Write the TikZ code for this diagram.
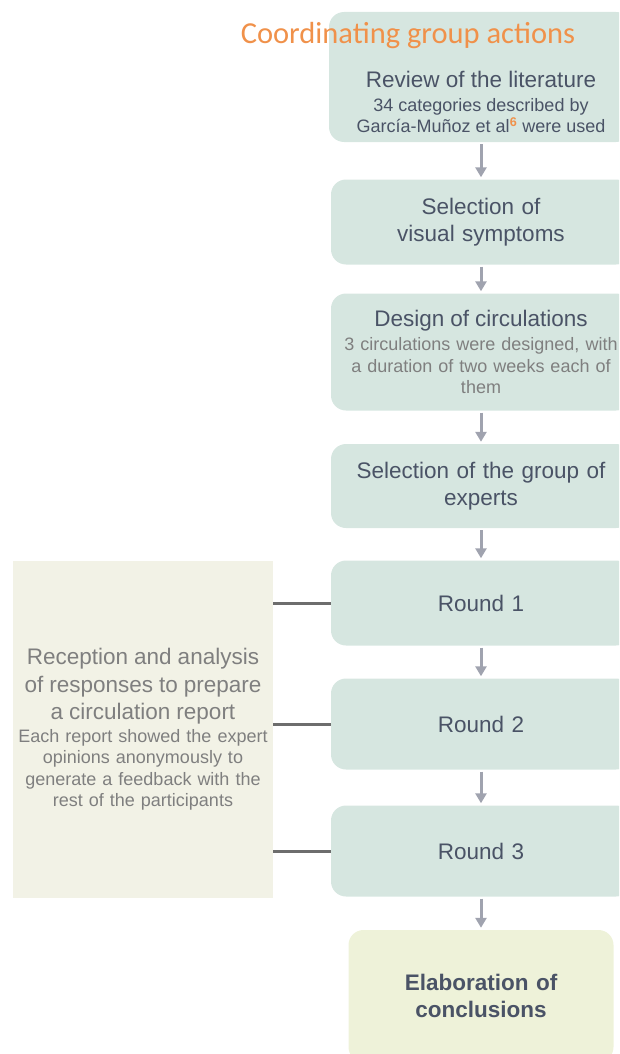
\documentclass[tikz,border=0pt]{standalone}
\usepackage{fontspec}
\setmainfont{Liberation Sans}
\newfontfamily\carlitofont{Carlito}
\usetikzlibrary{arrows.meta}
\definecolor{stagefill}{HTML}{D6E6E0}
\definecolor{endfill}{HTML}{EEF2D9}
\definecolor{reportfill}{HTML}{F2F2E6}
\definecolor{darktext}{HTML}{4A5366}
\definecolor{graytext}{HTML}{7F7F7F}
\definecolor{titleorange}{HTML}{F0914A}
\definecolor{arrowgray}{HTML}{A0A3AF}
\definecolor{linkgray}{HTML}{6D6D6D}
\newcommand{\stagefont}{\fontsize{22.5}{27}\selectfont}
\newcommand{\notefont}{\fontsize{18}{21.5}\selectfont}
\begin{document}
\begin{tikzpicture}[x=1pt,y=-1pt,
  stage/.style={fill=stagefill, rounded corners=15pt, minimum width=300pt, text width=300pt, align=center, inner sep=0pt, text=darktext, font=\stagefont},
  flow/.style={draw=arrowgray, line width=3pt, shorten >=2pt, shorten <=2pt, -{Triangle[width=11pt,length=10pt]}},
  link/.style={draw=linkgray, line width=3pt}]
\useasboundingbox (0,0) rectangle (619,1054);
\clip (0,0) rectangle (619,1054);

\node[stage, minimum width=302pt, minimum height=130pt] (lit) at (480,77) {};
\node[align=center, text=darktext, font=\notefont] (littext) at (481,102) {{\stagefont Review of the literature}\\[2pt] 34 categories described by\\ García-Muñoz et al\textsuperscript{\textbf{\color{titleorange}6}} were used};
\node[text=titleorange, font=\carlitofont\fontsize{30.5}{36}\selectfont] (title) at (408,36) {Coordinating group actions};

\node[stage, minimum height=85pt] (sel) at (481,222) {Selection of\\ visual symptoms};
\node[stage, minimum height=117pt, font=\notefont] (des) at (481,352) {{\stagefont Design of circulations}\\[3pt] \textcolor{graytext}{3 circulations were designed, with}\\ \textcolor{graytext}{a duration of two weeks each of}\\ \textcolor{graytext}{them}};
\node[stage, minimum height=84pt] (exp) at (481,486) {Selection of the group of\\ experts};

\node[stage, minimum height=85pt] (r1) at (481,603) {Round 1};
\node[stage, minimum height=91pt] (r2) at (481,724) {Round 2};
\node[stage, minimum height=91pt] (r3) at (481,851) {Round 3};

\node[stage, fill=endfill, minimum width=265pt, text width=265pt, minimum height=132pt, font=\stagefont\bfseries] (concl) at (481,996) {Elaboration of\\ conclusions};

\node[fill=reportfill, minimum width=260pt, minimum height=337pt, text width=255pt, align=center, inner sep=0pt, text=graytext, font=\notefont] (report) at (143,729.5) {{\stagefont Reception and analysis}\\[6pt] {\stagefont of responses to prepare}\\[6pt] {\stagefont a circulation report}\\[1pt] Each report showed the expert\\ opinions anonymously to\\ generate a feedback with the\\ rest of the participants};

\path[flow] (lit.south -| sel.north) -- (sel);
\path[flow] (sel) -- (des);
\path[flow] (des) -- (exp);
\path[flow] (exp) -- (r1);
\path[flow] (r1) -- (r2);
\path[flow] (r2) -- (r3);
\path[flow] (r3) -- (concl);

\path[link] (report.east |- r1.west) -- (r1.west);
\path[link] (report.east |- r2.west) -- (r2.west);
\path[link] (report.east |- r3.west) -- (r3.west);
\end{tikzpicture}
\end{document}
